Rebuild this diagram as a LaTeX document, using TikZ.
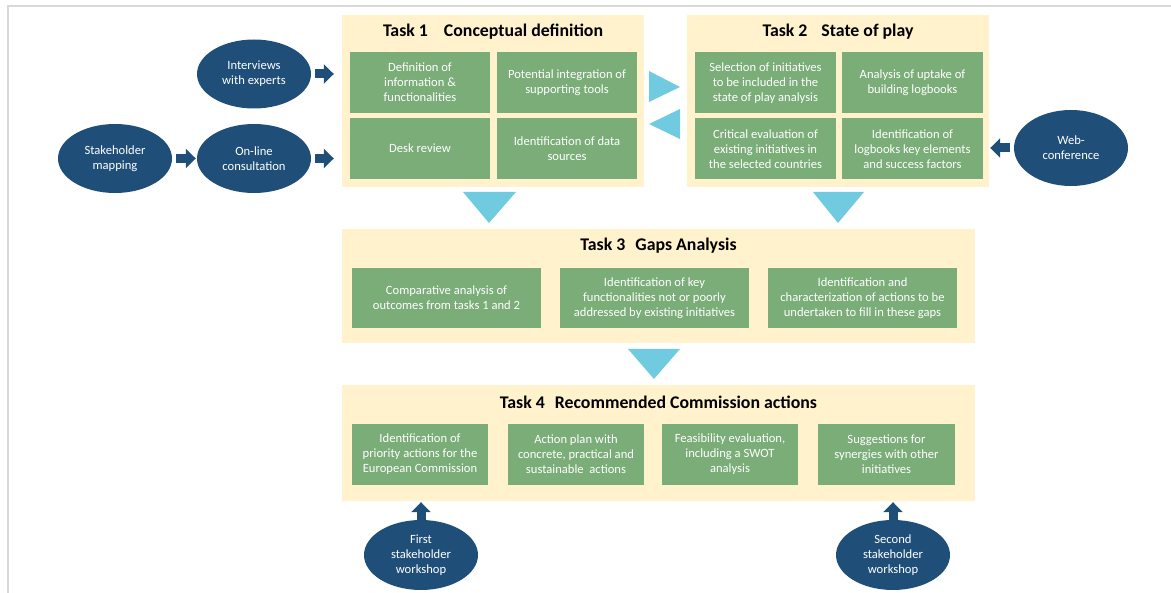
\documentclass[tikz,border=0pt]{standalone}
\usepackage{fontspec}
\setmainfont{Carlito}
\usetikzlibrary{arrows.meta}
\usetikzlibrary{shapes.geometric}
\definecolor{cream}{RGB}{255,242,204}
\definecolor{boxgreen}{RGB}{122,173,120}
\definecolor{navy}{RGB}{31,78,121}
\definecolor{flowblue}{RGB}{112,203,225}
\definecolor{framegray}{RGB}{217,217,217}
\newcommand{\titlefont}{\fontsize{17.8}{20}\selectfont\bfseries}
\newcommand{\itemfont}{\fontsize{12.6}{15}\selectfont}

\begin{document}
\begin{tikzpicture}[x=1pt,y=-1pt]
                \useasboundingbox (0,0) rectangle (1171,593);
                \draw [framegray,line width=2pt] (1171,6) -- (8,6) -- (8,593);

                % task panels
                \begin{scope}[every node/.style={fill=cream,inner sep=0pt}]
                    \node [minimum width=302pt,minimum height=172pt] (t1) at (493,101) {};
                    \node [minimum width=302pt,minimum height=172pt] (t2) at (838,101) {};
                    \node [minimum width=633pt,minimum height=114pt] (t3) at (658.5,286) {};
                    \node [minimum width=633pt,minimum height=116pt] (t4) at (658.5,443) {};
                \end{scope}

                \begin{scope}[every node/.style={font=\titlefont,inner sep=0pt}]
                    \node (h1) at (493,32) {Task 1\hspace{16pt}Conceptual definition};
                    \node (h2) at (838,32) {Task 2\hspace{14pt}State of play};
                    \node (h3) at (658.5,246) {Task 3\hspace{10pt}Gaps Analysis};
                    \node (h4) at (658.5,402) {Task 4\hspace{10pt}Recommended Commission actions};
                \end{scope}

                % activities
                \begin{scope}[every node/.style={fill=boxgreen,text=white,align=center,inner sep=0pt,font=\itemfont}]
                    \node [minimum width=140pt,minimum height=61pt] (a11) at (420,82.5) {Definition of\\information \&\\functionalities};
                    \node [minimum width=140pt,minimum height=61pt] (a12) at (567,82.5) {Potential integration of\\supporting tools};
                    \node [minimum width=140pt,minimum height=61pt] (a13) at (420,148.5) {Desk review};
                    \node [minimum width=140pt,minimum height=61pt] (a14) at (567,148.5) {Identification of data\\sources};

                    \node [minimum width=141pt,minimum height=61pt] (a21) at (765.5,83) {Selection of initiatives\\to be included in the\\state of play analysis};
                    \node [minimum width=141pt,minimum height=61pt] (a22) at (912.5,83) {Analysis of uptake of\\building logbooks};
                    \node [minimum width=141pt,minimum height=61pt] (a23) at (765.5,149) {Critical evaluation of\\existing initiatives in\\the selected countries};
                    \node [minimum width=141pt,minimum height=61pt] (a24) at (912.5,149) {Identification of\\logbooks key elements\\and success factors};

                    \node [minimum width=189pt,minimum height=60pt] (a31) at (446.5,298) {Comparative analysis of\\outcomes from tasks 1 and 2};
                    \node [minimum width=189pt,minimum height=60pt] (a32) at (654.5,298) {Identification of key\\functionalities not or poorly\\addressed by existing initiatives};
                    \node [minimum width=189pt,minimum height=60pt] (a33) at (862.5,298) {Identification and\\characterization of actions to be\\undertaken to fill in these gaps};

                    \node [minimum width=136pt,minimum height=61pt] (a41) at (420,454.5) {Identification of\\priority actions for the\\European Commission};
                    \node [minimum width=136pt,minimum height=61pt] (a42) at (576,454.5) {Action plan with\\concrete, practical and\\sustainable\ \ actions};
                    \node [minimum width=136pt,minimum height=61pt] (a43) at (730,454.5) {Feasibility evaluation,\\including a SWOT\\analysis};
                    \node [minimum width=137pt,minimum height=61pt] (a44) at (886.5,454.5) {Suggestions for\\synergies with other\\initiatives};
                \end{scope}

                % inputs
                \begin{scope}[every node/.style={ellipse,fill=navy,text=white,align=center,inner sep=0pt,
                    minimum width=114pt,minimum height=69pt,font=\itemfont}]
                    \node (iv) at (254,74) {Interviews\\with experts};
                    \node (sm) at (115,158.5) {Stakeholder\\mapping};
                    \node (oc) at (254,158.5) {On-line\\consultation};
                    \node [minimum height=76pt] (wc) at (1071,148) {Web-\\conference};
                    \node [minimum height=70pt] (w1) at (421,555) {First\\stakeholder\\workshop};
                    \node [minimum height=70pt] (w2) at (893,555) {Second\\stakeholder\\workshop};
                \end{scope}

                \begin{scope}[every path/.style={draw=navy,line width=9pt,-{Triangle[width=19pt,length=10pt]}}]
                    \path (iv.east) -- (iv.east -| t1.west) [shorten <=4pt,shorten >=8pt];
                    \path (oc.east) -- (oc.east -| t1.west) [shorten <=4pt,shorten >=8pt];
                    \path (sm.east) -- (oc.west) [shorten <=4pt,shorten >=1pt];
                    \path (wc.west) -- (wc.west -| t2.east) [shorten <=4pt,shorten >=1pt];
                    \path (w1.north) -- (w1.north |- t4.south) [shorten >=1pt];
                    \path (w2.north) -- (w2.north |- t4.south) [shorten >=1pt];
                \end{scope}

                % flow between tasks
                \begin{scope}[every path/.style={fill=flowblue}]
                    \path (649,71) -- (680,87) -- (649,102) -- cycle;
                    \path (680,109) -- (649,124) -- (680,139) -- cycle;
                    \path (463,192) -- (516,192) -- (489,223) -- cycle;
                    \path (813,192) -- (864,192) -- (838,223) -- cycle;
                    \path (628,349) -- (680,349) -- (654,379) -- cycle;
                \end{scope}
            \end{tikzpicture}
\end{document}
